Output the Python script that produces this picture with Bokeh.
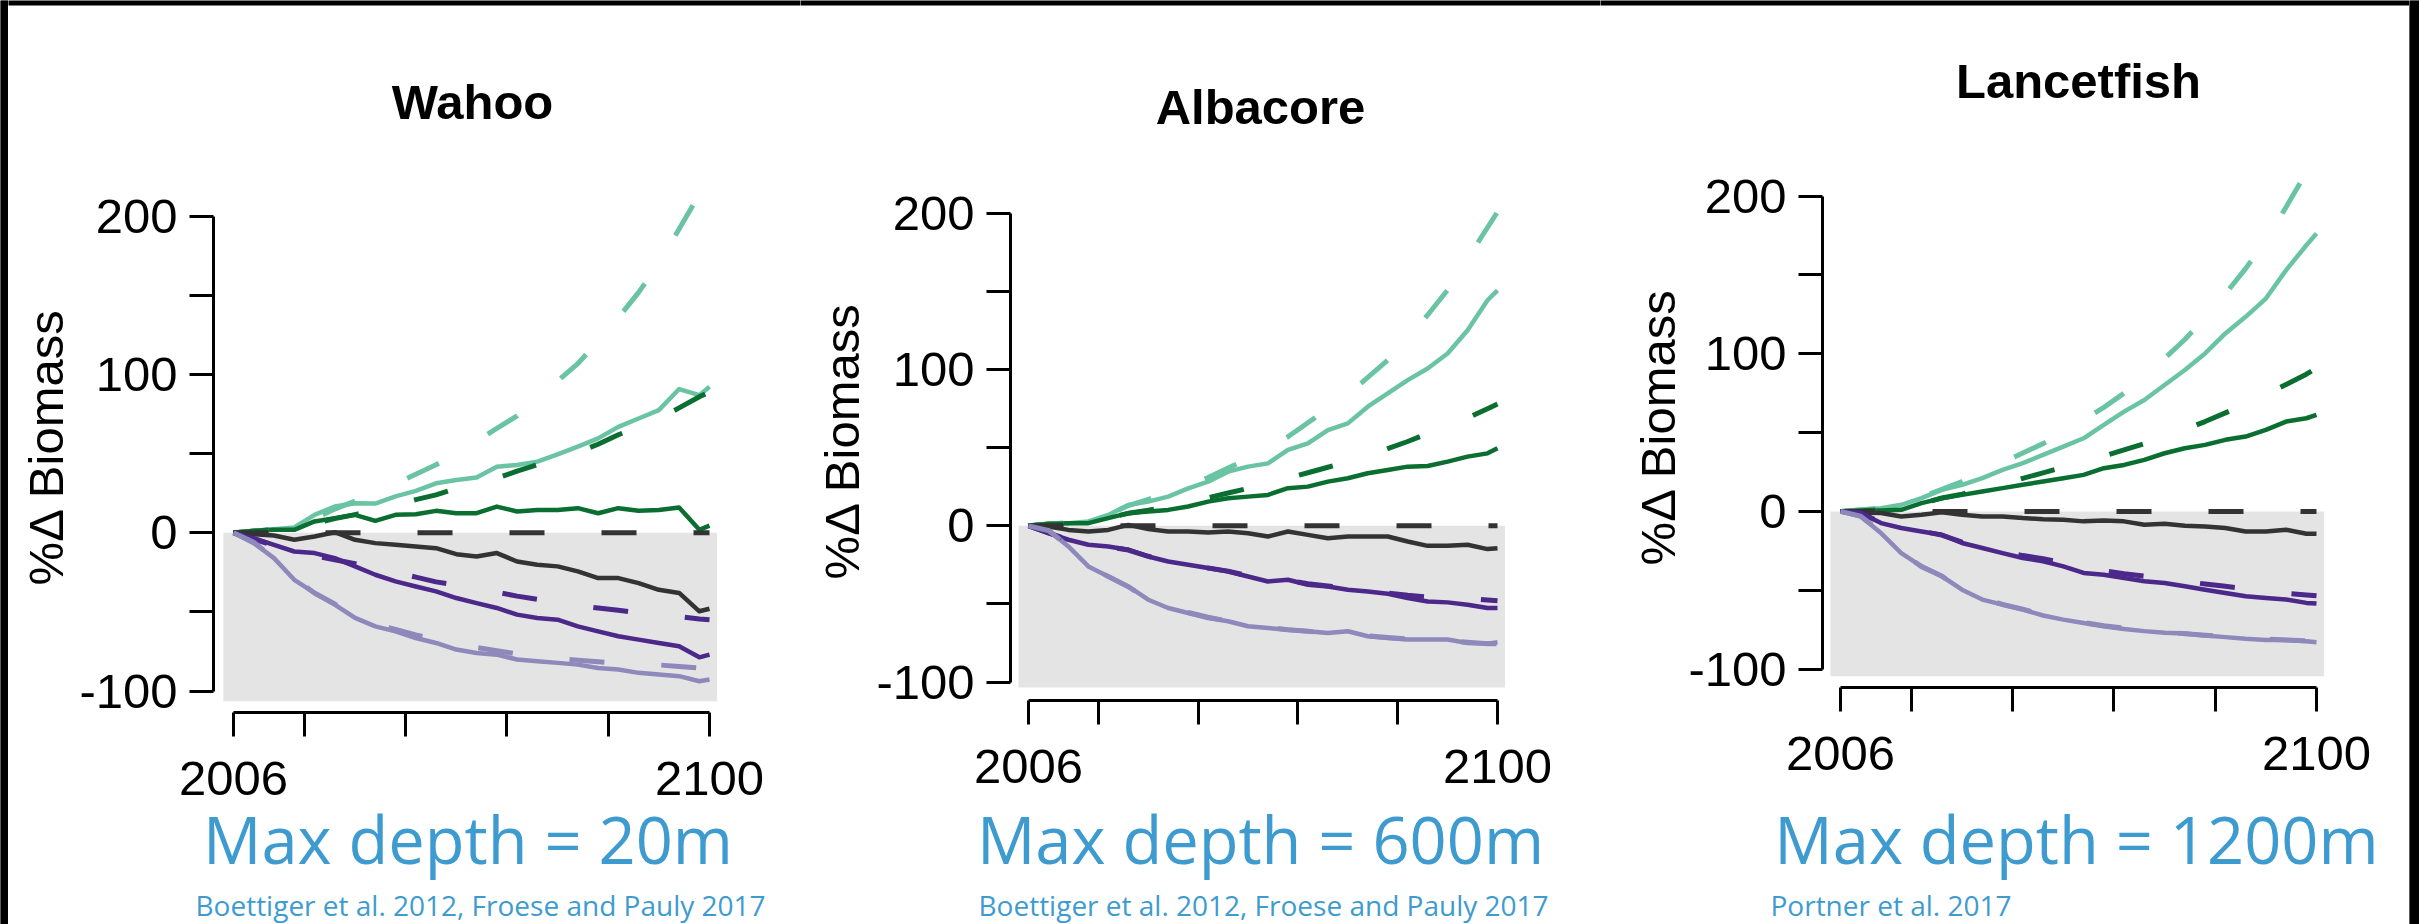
from bokeh.plotting import figure
from bokeh.models import FixedTicker, BoxAnnotation, Range1d
from bokeh.layouts import row, column
from bokeh.embed import file_html
from bokeh.resources import INLINE
from bokeh.core.properties import value

# ---------------- data ----------------
YEARS = [2006, 2010, 2014, 2018, 2022, 2026, 2030, 2034, 2038, 2042, 2046, 2050,
         2054, 2058, 2062, 2066, 2070, 2074, 2078, 2082, 2086, 2090, 2094, 2098, 2100]

X_TICKS = [2006, 2100]
X_MINOR = [2020, 2040, 2060, 2080]
Y_TICKS = [-100, 0, 100, 200]
Y_MINOR = [-50, 50, 150]
Y_TICK_LABELS = {-100: "-100", 0: "0", 100: "100", 200: "200"}

SCENARIOS = ["mint", "dkgreen", "black", "dkpurple", "ltpurple"]

WAHOO_SOLID = {
    "mint":     [0, 1.3, 2.3, 3.4, 11.4, 16.6, 18.7, 18.5, 23, 26.5, 31.3, 33.4, 35, 41.8, 42.9, 45, 49.6, 54.5, 59.7, 67, 72.3, 77.6, 90.9, 87, 92.3],
    "dkgreen":  [0, 1.3, 1.9, 1.9, 7.2, 9.3, 11.4, 7.6, 11.4, 11.8, 13.9, 12.4, 12.4, 16.6, 13.5, 14.5, 14.5, 15.6, 12.4, 15.6, 13.9, 14.5, 16, 1.9, 4.6],
    "black":    [0, -0.8, -1.7, -4.4, -2.3, 0.4, -4.4, -6.5, -7.6, -8.6, -9.7, -13.5, -15, -12.8, -18.1, -20.2, -21.2, -24.4, -28.6, -28.6, -31.8, -36, -38, -49.6, -48],
    "dkpurple": [0, -3.4, -7.6, -11.8, -12.8, -16, -21.2, -26.5, -30.7, -33.9, -37, -41.2, -44.4, -47.5, -51.7, -53.8, -54.9, -59.1, -62.3, -65.4, -67.5, -69.6, -71.7, -78.7, -77],
    "ltpurple": [0, -6.5, -16, -29.7, -38, -45.4, -53.8, -59.1, -62.3, -66.5, -69.6, -73.8, -75.9, -77, -80.1, -81.2, -82.2, -83.3, -85.4, -86.4, -88.5, -89.6, -90.6, -93.8, -92.7],
}
WAHOO_DASHED = {
    "mint":     [0, 1, 2, 4, 9, 15, 20, 25, 31, 37, 43, 50, 58, 66, 74, 85, 96, 107, 121, 136, 152, 170, 192, 214, 225],
    "dkgreen":  [0, 1, 2, 3, 6, 9, 11.5, 14.5, 17.5, 21, 24, 28, 31, 34.5, 39, 43, 47, 51, 56, 62, 67, 72, 79, 86, 89],
    "black":    [0, 0, 0, 0, 0, 0, 0, 0, 0, 0, 0, 0, 0, 0, 0, 0, 0, 0, 0, 0, 0, 0, 0, 0, 0],
    "dkpurple": [0, -4, -8, -12, -14.5, -17, -19.5, -22, -25, -28, -31, -33, -35.5, -37.5, -40, -42, -44, -46, -47.5, -49, -50.5, -52, -53, -54.5, -55],
    "ltpurple": [0, -6, -16, -29, -38, -45, -53, -58, -61, -64.5, -67.5, -70, -72.5, -74.5, -76.5, -78, -79.5, -80.5, -81.5, -82.5, -83, -83.5, -84.5, -85.5, -86],
}

ALBACORE_SOLID = {
    "mint":     [0, 1.3, 1.7, 2.8, 7, 13.4, 15.5, 18.7, 24, 28.3, 34.7, 37.9, 40, 48.6, 52.8, 61.3, 65.6, 76.3, 84.8, 93.3, 100.7, 110.3, 125.2, 144.4, 150.8],
    "dkgreen":  [0, 1.3, 1.7, 1.7, 4.9, 8.1, 9.2, 10.2, 12.4, 15.5, 17.7, 18.7, 19.8, 24.1, 25.1, 28.3, 30.5, 33.7, 35.8, 37.9, 38.3, 41.1, 44.3, 46.4, 49.6],
    "black":    [0, -0.4, -2.6, -3.6, -2.6, 0.6, -2.1, -3.6, -3.6, -4.3, -3.6, -4.7, -6.8, -3.6, -5.8, -7.9, -6.8, -6.8, -6.8, -10, -12.8, -12.8, -12.1, -14.9, -14.3],
    "dkpurple": [0, -4.7, -8.9, -12.1, -13.2, -15.3, -19.6, -22.8, -24.9, -27, -29.2, -32.4, -35.6, -34.5, -37.7, -38.8, -40.9, -42, -43.5, -46.2, -48.4, -49, -50.5, -52.6, -52.6],
    "ltpurple": [0, -2.6, -13.2, -26, -32.4, -38.8, -47.3, -52.6, -55.8, -59, -61.1, -64.3, -65.4, -66.5, -67.5, -68.6, -67.5, -70.7, -71.8, -72.8, -72.8, -72.8, -75, -75.4, -74.5],
}
ALBACORE_DASHED = {
    "mint":     [0, 1, 2, 3, 7, 13, 17, 21, 25, 31, 37, 43, 50, 57, 66, 75, 84, 95, 106, 120, 135, 151, 171, 191, 201],
    "dkgreen":  [0, 1, 1.5, 2, 5, 8, 10, 12.5, 15, 18, 21, 24, 27, 30.5, 34, 37.5, 41, 45, 49.5, 54, 59, 63.5, 69, 75, 78],
    "black":    [0, 0, 0, 0, 0, 0, 0, 0, 0, 0, 0, 0, 0, 0, 0, 0, 0, 0, 0, 0, 0, 0, 0, 0, 0],
    "dkpurple": [0, -4.5, -9, -12, -13.5, -15.5, -19.5, -22.5, -24.5, -27, -29, -32, -34, -35, -37, -38.5, -40, -41.5, -43, -44.5, -45.5, -46, -46.5, -47.5, -48],
    "ltpurple": [0, -3, -13, -25.5, -32.5, -39, -47, -52, -55.5, -58.5, -61, -63.5, -65, -66.5, -67.5, -68.5, -69, -70.5, -71.5, -72.5, -73, -73.5, -74.5, -75.5, -75.5],
}

LANCETFISH_SOLID = {
    "mint":     [0, 1, 2.1, 4.2, 8.4, 13.7, 16.9, 21.1, 26.4, 30.6, 35.9, 41.1, 46.4, 54.9, 63.3, 70.7, 80.2, 89.7, 100.2, 112.9, 123.4, 135, 153, 168.8, 176.2],
    "dkgreen":  [0, 0.6, 0.6, 1, 5.3, 8.4, 10.5, 12.7, 14.8, 16.9, 19, 21.1, 23.2, 27.4, 29.5, 32.7, 36.9, 40.1, 42.2, 45.4, 47.5, 51.7, 57, 59.1, 61.2],
    "black":    [0, -0.6, -1, -3.2, -2.1, -0.6, -2.1, -3.2, -3.2, -4.2, -4.9, -5.3, -6.3, -5.7, -6.3, -8.4, -7.8, -9.1, -9.5, -10.5, -12.7, -12.7, -11.6, -14.1, -14.1],
    "dkpurple": [0, -1, -7.4, -10.5, -12.7, -14.8, -20, -23.2, -26.4, -29.5, -31.6, -34.8, -39, -40.1, -42.2, -44.3, -45.4, -47.5, -49.6, -51.7, -53.8, -54.9, -55.9, -58, -58.4],
    "ltpurple": [0, -3.2, -13.7, -26.4, -34.8, -41.1, -49.6, -55.9, -59.1, -62.2, -66, -68.6, -70.7, -72.8, -74.5, -75.9, -77, -77.4, -78.7, -79.7, -80.8, -81.6, -81.6, -82.3, -82.9],
}
LANCETFISH_DASHED = {
    "mint":     [0, 1, 2, 4, 9, 14, 19, 25, 31, 37, 43, 50, 58, 66, 75, 86, 97, 109, 123, 138, 154, 172, 193, 215, 226],
    "dkgreen":  [0, 0.5, 1, 2, 5, 8.5, 11, 14, 17, 21, 24.5, 28, 31.5, 35, 39, 43, 47.5, 52, 57, 62.5, 68, 74, 80.5, 87, 91],
    "black":    [0, 0, 0, 0, 0, 0, 0, 0, 0, 0, 0, 0, 0, 0, 0, 0, 0, 0, 0, 0, 0, 0, 0, 0, 0],
    "dkpurple": [0, -1, -7, -10.5, -12.5, -15, -19.5, -22.5, -25.5, -28, -30, -32.5, -35, -37.5, -39.5, -41, -43, -44.5, -46, -47.5, -49, -50.5, -52, -53, -53.5],
    "ltpurple": [0, -3, -13, -26, -35, -41, -49, -55, -59, -62, -65.5, -68, -70.5, -72.5, -74, -75.5, -76.5, -77.5, -78.5, -79.5, -80.5, -81, -81.5, -82, -82.5],
}

TITLES = ["Wahoo", "Albacore", "Lancetfish"]
DEPTHS = ["Max depth = 20m", "Max depth = 600m", "Max depth = 1200m"]
CITES = ["Boettiger et al. 2012, Froese and Pauly 2017",
         "Boettiger et al. 2012, Froese and Pauly 2017",
         "Portner et al. 2017"]

# ---------------- style / layout ----------------
COLORS = {"mint": "#6ac4a4", "dkgreen": "#0b6e31", "black": "#333333",
          "dkpurple": "#4b2889", "ltpurple": "#8e88bb"}
BLUE = "#3e9bd0"
SHADE = "#e4e4e4"
FONT = "Liberation Sans"
PAGE_W, PAGE_H = 2419, 924
TOP_BAR, LEFT_BAR, RIGHT_BAR = 5, 8, 10
SPLIT = 885           # page y where the citation strip starts
TITLE_SIZE, DEPTH_SIZE, CITE_SIZE = 49, 65, 28
MID_SANS, MID_OPEN = 0.3465, 0.388   # baseline -> "middle" anchor, per em

PANELS = [
    dict(x0=8,    w=792, fl=213,  fr=722,  ft=180, fb=713, x2006=233,  x2100=709,  y0=533,   pxpct=1.585,
         shade_bottom=-106.5, title_cx=472,  title_base=118, text_left=195,  cite_base=915),
    dict(x0=800,  w=800, fl=1010, fr=1510, ft=180, fb=701, x2006=1028, x2100=1497, y0=526,   pxpct=1.565,
         shade_bottom=-103.5, title_cx=1260, title_base=123, text_left=978,  cite_base=915),
    dict(x0=1600, w=809, fl=1822, fr=2330, ft=165, fb=688, x2006=1840, x2100=2316, y0=511.6, pxpct=1.58,
         shade_bottom=-104.5, title_cx=2078, title_base=97,  text_left=1770, cite_base=915),
]
# per-panel vertical standoff of the depth label (x-axis label) below the tick labels
DEPTH_STANDOFF = [-3, 9, 22]
Y_LABEL_STANDOFF = [3, 4, 0]
DATA = [(WAHOO_SOLID, WAHOO_DASHED), (ALBACORE_SOLID, ALBACORE_DASHED), (LANCETFISH_SOLID, LANCETFISH_DASHED)]


def canvas_fig(w, h, fill="white"):
    """A figure whose frame is the whole canvas, y measured downward in pixels."""
    p = figure(width=w, height=h, x_range=Range1d(0, w), y_range=Range1d(h, 0),
               x_axis_type=None, y_axis_type=None, output_backend="svg",
               toolbar_location=None, tools="", min_border=0,
               min_border_left=0, min_border_right=0, min_border_top=0, min_border_bottom=0)
    p.outline_line_color = None
    p.background_fill_color = fill
    p.border_fill_color = fill
    p.xgrid.visible = False
    p.ygrid.visible = False
    return p


def make_column(cfg, solid, dashed, title, depth, cite, depth_standoff, ylab_standoff):
    w = cfg["w"]
    pxyr = (cfg["x2100"] - cfg["x2006"]) / (X_TICKS[1] - X_TICKS[0])

    def yr(px):
        return X_TICKS[0] + (px - cfg["x2006"]) / pxyr

    def val(py):
        return (cfg["y0"] - py) / cfg["pxpct"]

    # ---- top strip: black page border + title ----
    top = canvas_fig(w, cfg["ft"])
    top.add_layout(BoxAnnotation(left=-20, right=w + 20, top=-20, bottom=TOP_BAR,
                                 fill_color="black", fill_alpha=1, line_alpha=0))
    top.text(x=[cfg["title_cx"] - cfg["x0"]], y=[cfg["title_base"] - MID_SANS * TITLE_SIZE],
             text=[title], text_align="center", text_baseline="middle", text_font=value(FONT),
             text_font_style="bold", text_font_size=f"{TITLE_SIZE}px", text_color="black")

    # ---- main plot (x-axis label carries the depth text) ----
    p = figure(width=w, height=SPLIT - cfg["ft"],
               x_range=Range1d(yr(cfg["fl"]), yr(cfg["fr"])),
               y_range=Range1d(val(cfg["fb"]), val(cfg["ft"])),
               output_backend="svg", toolbar_location=None, tools="",
               min_border_left=cfg["fl"] - cfg["x0"],
               min_border_right=cfg["x0"] + w - cfg["fr"],
               min_border_top=0,
               min_border_bottom=SPLIT - cfg["fb"])
    p.outline_line_color = None
    p.background_fill_color = "white"
    p.border_fill_color = "white"
    p.xgrid.visible = False
    p.ygrid.visible = False

    p.add_layout(BoxAnnotation(left=X_TICKS[0] - 2, right=X_TICKS[1] + 1.5, top=0,
                               bottom=cfg["shade_bottom"], fill_color=SHADE, fill_alpha=1.0,
                               line_alpha=0, level="underlay"))

    for key in SCENARIOS:
        p.line(YEARS, solid[key], line_color=COLORS[key], line_width=4.5, line_join="round")
    for key in SCENARIOS:
        p.line(YEARS, dashed[key], line_color=COLORS[key], line_width=5, line_dash="35 57")

    xa = p.xaxis[0]
    xa.ticker = FixedTicker(ticks=X_TICKS, minor_ticks=X_MINOR)
    xa.bounds = (X_TICKS[0], X_TICKS[1])
    xa.major_label_standoff = 25
    xa.axis_label = depth
    xa.axis_label_text_font = "Open Sans"
    xa.axis_label_text_font_size = f"{DEPTH_SIZE}px"
    xa.axis_label_text_font_style = "normal"
    xa.axis_label_text_color = BLUE
    xa.axis_label_standoff = depth_standoff

    ya = p.yaxis[0]
    ya.ticker = FixedTicker(ticks=Y_TICKS, minor_ticks=Y_MINOR)
    ya.major_label_overrides = Y_TICK_LABELS
    ya.bounds = (Y_TICKS[0], Y_TICKS[-1])
    ya.major_label_standoff = 12
    ya.axis_label = "%\u0394 Biomass"
    ya.axis_label_text_font = FONT
    ya.axis_label_text_font_size = "49px"
    ya.axis_label_text_font_style = "normal"
    ya.axis_label_text_color = "black"
    ya.axis_label_standoff = ylab_standoff
    for ax in (xa, ya):
        ax.axis_line_width = 3
        ax.axis_line_color = "black"
        ax.major_tick_line_width = 3
        ax.minor_tick_line_width = 3
        ax.major_tick_line_color = "black"
        ax.minor_tick_line_color = "black"
        ax.major_tick_out = 24
        ax.major_tick_in = 0
        ax.minor_tick_out = 24
        ax.minor_tick_in = 0
        ax.major_label_text_font = FONT
        ax.major_label_text_font_size = "49px"
        ax.major_label_text_color = "black"

    # ---- bottom strip: citation ----
    bot = canvas_fig(w, PAGE_H - SPLIT)
    bot.text(x=[cfg["text_left"] - cfg["x0"]], y=[cfg["cite_base"] - SPLIT - MID_OPEN * CITE_SIZE], text=[cite],
             text_align="left", text_baseline="middle", text_font=value("Open Sans"),
             text_font_size=f"{CITE_SIZE}px", text_color=BLUE)

    # each figure wrapped in its own row so the column does not align their frames
    return column(row(top), row(p), row(bot), spacing=0)


def side_bar(w):
    b = canvas_fig(w, PAGE_H, fill="black")
    b.add_layout(BoxAnnotation(fill_color="black", fill_alpha=1, line_alpha=0))
    return b


cols = [make_column(cfg, s, d, t, dp, c, ds, ys)
        for cfg, (s, d), t, dp, c, ds, ys in zip(PANELS, DATA, TITLES, DEPTHS, CITES, DEPTH_STANDOFF, Y_LABEL_STANDOFF)]

layout = row(side_bar(LEFT_BAR), *cols, side_bar(RIGHT_BAR), spacing=0)

open("out.html", "w").write(file_html(layout, INLINE))
